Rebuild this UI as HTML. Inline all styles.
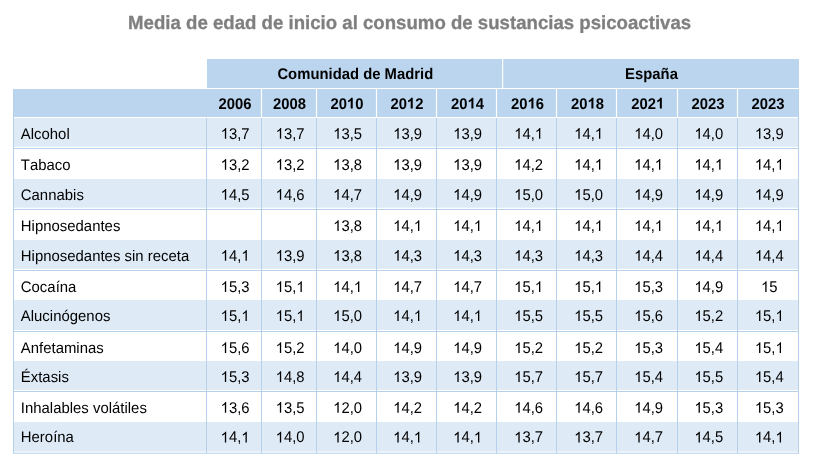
<!DOCTYPE html>
<html><head><meta charset="utf-8"><title>Media de edad de inicio</title>
<style>
html,body{margin:0;padding:0;background:#fff;}
body{width:823px;height:471px;overflow:hidden;font-family:"Liberation Sans",sans-serif;}
svg{display:block;will-change:transform;}
text{font-family:"Liberation Sans",sans-serif;font-kerning:none;}
.t{font-size:18.64px;font-weight:bold;fill:#7f7f7f;stroke:#7f7f7f;stroke-width:0.3px;}
.h{font-size:15px;font-weight:bold;fill:#000;}
.b,.l{font-size:15px;fill:#000;}
</style></head><body>
<svg width="823" height="471" viewBox="0 0 823 471">
<rect x="207" y="59" width="592.0" height="29" fill="#BAD5ED"/>
<rect x="502" y="59" width="1.2" height="29" fill="#fff"/>
<rect x="13.0" y="89" width="786.0" height="28" fill="#BAD5ED"/>
<rect x="260.9" y="89" width="1.2" height="28" fill="#fff"/>
<rect x="315.9" y="89" width="1.2" height="28" fill="#fff"/>
<rect x="375.9" y="89" width="1.2" height="28" fill="#fff"/>
<rect x="435.9" y="89" width="1.2" height="28" fill="#fff"/>
<rect x="495.9" y="89" width="1.2" height="28" fill="#fff"/>
<rect x="555.9" y="89" width="1.2" height="28" fill="#fff"/>
<rect x="615.9" y="89" width="1.2" height="28" fill="#fff"/>
<rect x="676.9" y="89" width="1.2" height="28" fill="#fff"/>
<rect x="736.9" y="89" width="1.2" height="28" fill="#fff"/>
<rect x="13.0" y="118" width="786.0" height="28.80000000000001" fill="#DEEAF6"/>
<rect x="13.0" y="148.0" width="786.0" height="1" fill="#B5D1EB"/>
<rect x="13.0" y="179" width="786.0" height="28.69999999999999" fill="#DEEAF6"/>
<rect x="13.0" y="209.0" width="786.0" height="1" fill="#B5D1EB"/>
<rect x="13.0" y="240" width="786.0" height="28.899999999999977" fill="#DEEAF6"/>
<rect x="13.0" y="270.0" width="786.0" height="1" fill="#B5D1EB"/>
<rect x="13.0" y="300" width="786.0" height="30.0" fill="#DEEAF6"/>
<rect x="13.0" y="331.0" width="786.0" height="1" fill="#B5D1EB"/>
<rect x="13.0" y="361" width="786.0" height="29.0" fill="#DEEAF6"/>
<rect x="13.0" y="391.0" width="786.0" height="1" fill="#B5D1EB"/>
<rect x="13.0" y="422" width="786.0" height="29.69999999999999" fill="#DEEAF6"/>
<rect x="13.0" y="452.7" width="786.0" height="1" fill="#B5D1EB"/>
<rect x="13.0" y="89" width="1" height="364.5" fill="#B5D1EB"/>
<rect x="206.0" y="118" width="1" height="335.5" fill="#B5D1EB"/>
<rect x="261.0" y="118" width="1" height="335.5" fill="#B5D1EB"/>
<rect x="316.0" y="118" width="1" height="335.5" fill="#B5D1EB"/>
<rect x="376.0" y="118" width="1" height="335.5" fill="#B5D1EB"/>
<rect x="436.0" y="118" width="1" height="335.5" fill="#B5D1EB"/>
<rect x="496.0" y="118" width="1" height="335.5" fill="#B5D1EB"/>
<rect x="556.0" y="118" width="1" height="335.5" fill="#B5D1EB"/>
<rect x="616.0" y="118" width="1" height="335.5" fill="#B5D1EB"/>
<rect x="677.0" y="118" width="1" height="335.5" fill="#B5D1EB"/>
<rect x="737.0" y="118" width="1" height="335.5" fill="#B5D1EB"/>
<rect x="798.0" y="89" width="1" height="364.5" fill="#B5D1EB"/>
<text transform="translate(409.60,29.20) skewX(0.05) scale(1,1.02)" class="t" text-anchor="middle">Media de edad de inicio al consumo de sustancias psicoactivas</text>
<text transform="translate(355.30,78.80) skewX(0.05) scale(0.99,1.04)" class="h" text-anchor="middle">Comunidad de Madrid</text>
<text transform="translate(651.50,78.80) skewX(0.05) scale(0.99,1.04)" class="h" text-anchor="middle">España</text>
<g transform="translate(235.00,108.50) skewX(0.05) scale(0.99,1.04)"><text class="h" x="-16.685 -8.342 0.000 8.342" y="0">2006</text></g>
<g transform="translate(289.40,108.50) skewX(0.05) scale(0.99,1.04)"><text class="h" x="-16.685 -8.342 0.000 8.342" y="0">2008</text></g>
<g transform="translate(346.90,108.50) skewX(0.05) scale(0.99,1.04)"><text class="h" x="-16.685 -8.342 8.342" y="0">200</text><path transform="translate(0.000,0) scale(0.007324,-0.007043)" d="M806 0H525V1059Q371 915 162 846V1101Q272 1137 401 1237.5T578 1472H806V0Z"/></g>
<g transform="translate(406.90,108.50) skewX(0.05) scale(0.99,1.04)"><text class="h" x="-16.685 -8.342 8.342" y="0">202</text><path transform="translate(0.000,0) scale(0.007324,-0.007043)" d="M806 0H525V1059Q371 915 162 846V1101Q272 1137 401 1237.5T578 1472H806V0Z"/></g>
<g transform="translate(467.60,108.50) skewX(0.05) scale(0.99,1.04)"><text class="h" x="-16.685 -8.342 8.342" y="0">204</text><path transform="translate(0.000,0) scale(0.007324,-0.007043)" d="M806 0H525V1059Q371 915 162 846V1101Q272 1137 401 1237.5T578 1472H806V0Z"/></g>
<g transform="translate(527.60,108.50) skewX(0.05) scale(0.99,1.04)"><text class="h" x="-16.685 -8.342 8.342" y="0">206</text><path transform="translate(0.000,0) scale(0.007324,-0.007043)" d="M806 0H525V1059Q371 915 162 846V1101Q272 1137 401 1237.5T578 1472H806V0Z"/></g>
<g transform="translate(587.60,108.50) skewX(0.05) scale(0.99,1.04)"><text class="h" x="-16.685 -8.342 8.342" y="0">208</text><path transform="translate(0.000,0) scale(0.007324,-0.007043)" d="M806 0H525V1059Q371 915 162 846V1101Q272 1137 401 1237.5T578 1472H806V0Z"/></g>
<g transform="translate(647.75,108.50) skewX(0.05) scale(0.99,1.04)"><text class="h" x="-16.685 -8.342 0.000" y="0">202</text><path transform="translate(8.342,0) scale(0.007324,-0.007043)" d="M806 0H525V1059Q371 915 162 846V1101Q272 1137 401 1237.5T578 1472H806V0Z"/></g>
<g transform="translate(708.00,108.50) skewX(0.05) scale(0.99,1.04)"><text class="h" x="-16.685 -8.342 0.000 8.342" y="0">2023</text></g>
<g transform="translate(768.10,108.50) skewX(0.05) scale(0.99,1.04)"><text class="h" x="-16.685 -8.342 0.000 8.342" y="0">2023</text></g>
<text transform="translate(20.80,138.80) skewX(0.05) scale(0.995,1.02)" class="l" text-anchor="start">Alcohol</text>
<g transform="translate(235.10,138.80) skewX(0.05) scale(0.99,1.04)"><text class="b" x="-6.255 2.087 6.255" y="0">3,7</text><path transform="translate(-14.597,0) scale(0.007324,-0.007043)" d="M763 0H583V1147Q518 1085 412.5 1023T223 930V1104Q373 1174.5 485 1275T644 1470H763V0Z"/></g>
<g transform="translate(290.10,138.80) skewX(0.05) scale(0.99,1.04)"><text class="b" x="-6.255 2.087 6.255" y="0">3,7</text><path transform="translate(-14.597,0) scale(0.007324,-0.007043)" d="M763 0H583V1147Q518 1085 412.5 1023T223 930V1104Q373 1174.5 485 1275T644 1470H763V0Z"/></g>
<g transform="translate(347.60,138.80) skewX(0.05) scale(0.99,1.04)"><text class="b" x="-6.255 2.087 6.255" y="0">3,5</text><path transform="translate(-14.597,0) scale(0.007324,-0.007043)" d="M763 0H583V1147Q518 1085 412.5 1023T223 930V1104Q373 1174.5 485 1275T644 1470H763V0Z"/></g>
<g transform="translate(407.60,138.80) skewX(0.05) scale(0.99,1.04)"><text class="b" x="-6.255 2.087 6.255" y="0">3,9</text><path transform="translate(-14.597,0) scale(0.007324,-0.007043)" d="M763 0H583V1147Q518 1085 412.5 1023T223 930V1104Q373 1174.5 485 1275T644 1470H763V0Z"/></g>
<g transform="translate(467.60,138.80) skewX(0.05) scale(0.99,1.04)"><text class="b" x="-6.255 2.087 6.255" y="0">3,9</text><path transform="translate(-14.597,0) scale(0.007324,-0.007043)" d="M763 0H583V1147Q518 1085 412.5 1023T223 930V1104Q373 1174.5 485 1275T644 1470H763V0Z"/></g>
<g transform="translate(528.60,138.80) skewX(0.05) scale(0.99,1.04)"><text class="b" x="-6.255 2.087" y="0">4,</text><path transform="translate(-14.597,0) scale(0.007324,-0.007043)" d="M763 0H583V1147Q518 1085 412.5 1023T223 930V1104Q373 1174.5 485 1275T644 1470H763V0Z"/><path transform="translate(6.255,0) scale(0.007324,-0.007043)" d="M763 0H583V1147Q518 1085 412.5 1023T223 930V1104Q373 1174.5 485 1275T644 1470H763V0Z"/></g>
<g transform="translate(588.60,138.80) skewX(0.05) scale(0.99,1.04)"><text class="b" x="-6.255 2.087" y="0">4,</text><path transform="translate(-14.597,0) scale(0.007324,-0.007043)" d="M763 0H583V1147Q518 1085 412.5 1023T223 930V1104Q373 1174.5 485 1275T644 1470H763V0Z"/><path transform="translate(6.255,0) scale(0.007324,-0.007043)" d="M763 0H583V1147Q518 1085 412.5 1023T223 930V1104Q373 1174.5 485 1275T644 1470H763V0Z"/></g>
<g transform="translate(648.60,138.80) skewX(0.05) scale(0.99,1.04)"><text class="b" x="-6.255 2.087 6.255" y="0">4,0</text><path transform="translate(-14.597,0) scale(0.007324,-0.007043)" d="M763 0H583V1147Q518 1085 412.5 1023T223 930V1104Q373 1174.5 485 1275T644 1470H763V0Z"/></g>
<g transform="translate(708.80,138.80) skewX(0.05) scale(0.99,1.04)"><text class="b" x="-6.255 2.087 6.255" y="0">4,0</text><path transform="translate(-14.597,0) scale(0.007324,-0.007043)" d="M763 0H583V1147Q518 1085 412.5 1023T223 930V1104Q373 1174.5 485 1275T644 1470H763V0Z"/></g>
<g transform="translate(769.30,138.80) skewX(0.05) scale(0.99,1.04)"><text class="b" x="-6.255 2.087 6.255" y="0">3,9</text><path transform="translate(-14.597,0) scale(0.007324,-0.007043)" d="M763 0H583V1147Q518 1085 412.5 1023T223 930V1104Q373 1174.5 485 1275T644 1470H763V0Z"/></g>
<text transform="translate(20.80,169.70) skewX(0.05) scale(0.995,1.02)" class="l" text-anchor="start">Tabaco</text>
<g transform="translate(235.10,169.70) skewX(0.05) scale(0.99,1.04)"><text class="b" x="-6.255 2.087 6.255" y="0">3,2</text><path transform="translate(-14.597,0) scale(0.007324,-0.007043)" d="M763 0H583V1147Q518 1085 412.5 1023T223 930V1104Q373 1174.5 485 1275T644 1470H763V0Z"/></g>
<g transform="translate(290.10,169.70) skewX(0.05) scale(0.99,1.04)"><text class="b" x="-6.255 2.087 6.255" y="0">3,2</text><path transform="translate(-14.597,0) scale(0.007324,-0.007043)" d="M763 0H583V1147Q518 1085 412.5 1023T223 930V1104Q373 1174.5 485 1275T644 1470H763V0Z"/></g>
<g transform="translate(347.60,169.70) skewX(0.05) scale(0.99,1.04)"><text class="b" x="-6.255 2.087 6.255" y="0">3,8</text><path transform="translate(-14.597,0) scale(0.007324,-0.007043)" d="M763 0H583V1147Q518 1085 412.5 1023T223 930V1104Q373 1174.5 485 1275T644 1470H763V0Z"/></g>
<g transform="translate(407.60,169.70) skewX(0.05) scale(0.99,1.04)"><text class="b" x="-6.255 2.087 6.255" y="0">3,9</text><path transform="translate(-14.597,0) scale(0.007324,-0.007043)" d="M763 0H583V1147Q518 1085 412.5 1023T223 930V1104Q373 1174.5 485 1275T644 1470H763V0Z"/></g>
<g transform="translate(467.60,169.70) skewX(0.05) scale(0.99,1.04)"><text class="b" x="-6.255 2.087 6.255" y="0">3,9</text><path transform="translate(-14.597,0) scale(0.007324,-0.007043)" d="M763 0H583V1147Q518 1085 412.5 1023T223 930V1104Q373 1174.5 485 1275T644 1470H763V0Z"/></g>
<g transform="translate(528.60,169.70) skewX(0.05) scale(0.99,1.04)"><text class="b" x="-6.255 2.087 6.255" y="0">4,2</text><path transform="translate(-14.597,0) scale(0.007324,-0.007043)" d="M763 0H583V1147Q518 1085 412.5 1023T223 930V1104Q373 1174.5 485 1275T644 1470H763V0Z"/></g>
<g transform="translate(588.60,169.70) skewX(0.05) scale(0.99,1.04)"><text class="b" x="-6.255 2.087" y="0">4,</text><path transform="translate(-14.597,0) scale(0.007324,-0.007043)" d="M763 0H583V1147Q518 1085 412.5 1023T223 930V1104Q373 1174.5 485 1275T644 1470H763V0Z"/><path transform="translate(6.255,0) scale(0.007324,-0.007043)" d="M763 0H583V1147Q518 1085 412.5 1023T223 930V1104Q373 1174.5 485 1275T644 1470H763V0Z"/></g>
<g transform="translate(648.60,169.70) skewX(0.05) scale(0.99,1.04)"><text class="b" x="-6.255 2.087" y="0">4,</text><path transform="translate(-14.597,0) scale(0.007324,-0.007043)" d="M763 0H583V1147Q518 1085 412.5 1023T223 930V1104Q373 1174.5 485 1275T644 1470H763V0Z"/><path transform="translate(6.255,0) scale(0.007324,-0.007043)" d="M763 0H583V1147Q518 1085 412.5 1023T223 930V1104Q373 1174.5 485 1275T644 1470H763V0Z"/></g>
<g transform="translate(708.80,169.70) skewX(0.05) scale(0.99,1.04)"><text class="b" x="-6.255 2.087" y="0">4,</text><path transform="translate(-14.597,0) scale(0.007324,-0.007043)" d="M763 0H583V1147Q518 1085 412.5 1023T223 930V1104Q373 1174.5 485 1275T644 1470H763V0Z"/><path transform="translate(6.255,0) scale(0.007324,-0.007043)" d="M763 0H583V1147Q518 1085 412.5 1023T223 930V1104Q373 1174.5 485 1275T644 1470H763V0Z"/></g>
<g transform="translate(769.30,169.70) skewX(0.05) scale(0.99,1.04)"><text class="b" x="-6.255 2.087" y="0">4,</text><path transform="translate(-14.597,0) scale(0.007324,-0.007043)" d="M763 0H583V1147Q518 1085 412.5 1023T223 930V1104Q373 1174.5 485 1275T644 1470H763V0Z"/><path transform="translate(6.255,0) scale(0.007324,-0.007043)" d="M763 0H583V1147Q518 1085 412.5 1023T223 930V1104Q373 1174.5 485 1275T644 1470H763V0Z"/></g>
<text transform="translate(20.80,199.70) skewX(0.05) scale(0.995,1.02)" class="l" text-anchor="start">Cannabis</text>
<g transform="translate(235.10,199.70) skewX(0.05) scale(0.99,1.04)"><text class="b" x="-6.255 2.087 6.255" y="0">4,5</text><path transform="translate(-14.597,0) scale(0.007324,-0.007043)" d="M763 0H583V1147Q518 1085 412.5 1023T223 930V1104Q373 1174.5 485 1275T644 1470H763V0Z"/></g>
<g transform="translate(290.10,199.70) skewX(0.05) scale(0.99,1.04)"><text class="b" x="-6.255 2.087 6.255" y="0">4,6</text><path transform="translate(-14.597,0) scale(0.007324,-0.007043)" d="M763 0H583V1147Q518 1085 412.5 1023T223 930V1104Q373 1174.5 485 1275T644 1470H763V0Z"/></g>
<g transform="translate(347.60,199.70) skewX(0.05) scale(0.99,1.04)"><text class="b" x="-6.255 2.087 6.255" y="0">4,7</text><path transform="translate(-14.597,0) scale(0.007324,-0.007043)" d="M763 0H583V1147Q518 1085 412.5 1023T223 930V1104Q373 1174.5 485 1275T644 1470H763V0Z"/></g>
<g transform="translate(407.60,199.70) skewX(0.05) scale(0.99,1.04)"><text class="b" x="-6.255 2.087 6.255" y="0">4,9</text><path transform="translate(-14.597,0) scale(0.007324,-0.007043)" d="M763 0H583V1147Q518 1085 412.5 1023T223 930V1104Q373 1174.5 485 1275T644 1470H763V0Z"/></g>
<g transform="translate(467.60,199.70) skewX(0.05) scale(0.99,1.04)"><text class="b" x="-6.255 2.087 6.255" y="0">4,9</text><path transform="translate(-14.597,0) scale(0.007324,-0.007043)" d="M763 0H583V1147Q518 1085 412.5 1023T223 930V1104Q373 1174.5 485 1275T644 1470H763V0Z"/></g>
<g transform="translate(528.60,199.70) skewX(0.05) scale(0.99,1.04)"><text class="b" x="-6.255 2.087 6.255" y="0">5,0</text><path transform="translate(-14.597,0) scale(0.007324,-0.007043)" d="M763 0H583V1147Q518 1085 412.5 1023T223 930V1104Q373 1174.5 485 1275T644 1470H763V0Z"/></g>
<g transform="translate(588.60,199.70) skewX(0.05) scale(0.99,1.04)"><text class="b" x="-6.255 2.087 6.255" y="0">5,0</text><path transform="translate(-14.597,0) scale(0.007324,-0.007043)" d="M763 0H583V1147Q518 1085 412.5 1023T223 930V1104Q373 1174.5 485 1275T644 1470H763V0Z"/></g>
<g transform="translate(648.60,199.70) skewX(0.05) scale(0.99,1.04)"><text class="b" x="-6.255 2.087 6.255" y="0">4,9</text><path transform="translate(-14.597,0) scale(0.007324,-0.007043)" d="M763 0H583V1147Q518 1085 412.5 1023T223 930V1104Q373 1174.5 485 1275T644 1470H763V0Z"/></g>
<g transform="translate(708.80,199.70) skewX(0.05) scale(0.99,1.04)"><text class="b" x="-6.255 2.087 6.255" y="0">4,9</text><path transform="translate(-14.597,0) scale(0.007324,-0.007043)" d="M763 0H583V1147Q518 1085 412.5 1023T223 930V1104Q373 1174.5 485 1275T644 1470H763V0Z"/></g>
<g transform="translate(769.30,199.70) skewX(0.05) scale(0.99,1.04)"><text class="b" x="-6.255 2.087 6.255" y="0">4,9</text><path transform="translate(-14.597,0) scale(0.007324,-0.007043)" d="M763 0H583V1147Q518 1085 412.5 1023T223 930V1104Q373 1174.5 485 1275T644 1470H763V0Z"/></g>
<text transform="translate(20.80,231.00) skewX(0.05) scale(0.995,1.02)" class="l" text-anchor="start">Hipnosedantes</text>
<g transform="translate(347.60,231.00) skewX(0.05) scale(0.99,1.04)"><text class="b" x="-6.255 2.087 6.255" y="0">3,8</text><path transform="translate(-14.597,0) scale(0.007324,-0.007043)" d="M763 0H583V1147Q518 1085 412.5 1023T223 930V1104Q373 1174.5 485 1275T644 1470H763V0Z"/></g>
<g transform="translate(407.60,231.00) skewX(0.05) scale(0.99,1.04)"><text class="b" x="-6.255 2.087" y="0">4,</text><path transform="translate(-14.597,0) scale(0.007324,-0.007043)" d="M763 0H583V1147Q518 1085 412.5 1023T223 930V1104Q373 1174.5 485 1275T644 1470H763V0Z"/><path transform="translate(6.255,0) scale(0.007324,-0.007043)" d="M763 0H583V1147Q518 1085 412.5 1023T223 930V1104Q373 1174.5 485 1275T644 1470H763V0Z"/></g>
<g transform="translate(467.60,231.00) skewX(0.05) scale(0.99,1.04)"><text class="b" x="-6.255 2.087" y="0">4,</text><path transform="translate(-14.597,0) scale(0.007324,-0.007043)" d="M763 0H583V1147Q518 1085 412.5 1023T223 930V1104Q373 1174.5 485 1275T644 1470H763V0Z"/><path transform="translate(6.255,0) scale(0.007324,-0.007043)" d="M763 0H583V1147Q518 1085 412.5 1023T223 930V1104Q373 1174.5 485 1275T644 1470H763V0Z"/></g>
<g transform="translate(528.60,231.00) skewX(0.05) scale(0.99,1.04)"><text class="b" x="-6.255 2.087" y="0">4,</text><path transform="translate(-14.597,0) scale(0.007324,-0.007043)" d="M763 0H583V1147Q518 1085 412.5 1023T223 930V1104Q373 1174.5 485 1275T644 1470H763V0Z"/><path transform="translate(6.255,0) scale(0.007324,-0.007043)" d="M763 0H583V1147Q518 1085 412.5 1023T223 930V1104Q373 1174.5 485 1275T644 1470H763V0Z"/></g>
<g transform="translate(588.60,231.00) skewX(0.05) scale(0.99,1.04)"><text class="b" x="-6.255 2.087" y="0">4,</text><path transform="translate(-14.597,0) scale(0.007324,-0.007043)" d="M763 0H583V1147Q518 1085 412.5 1023T223 930V1104Q373 1174.5 485 1275T644 1470H763V0Z"/><path transform="translate(6.255,0) scale(0.007324,-0.007043)" d="M763 0H583V1147Q518 1085 412.5 1023T223 930V1104Q373 1174.5 485 1275T644 1470H763V0Z"/></g>
<g transform="translate(648.60,231.00) skewX(0.05) scale(0.99,1.04)"><text class="b" x="-6.255 2.087" y="0">4,</text><path transform="translate(-14.597,0) scale(0.007324,-0.007043)" d="M763 0H583V1147Q518 1085 412.5 1023T223 930V1104Q373 1174.5 485 1275T644 1470H763V0Z"/><path transform="translate(6.255,0) scale(0.007324,-0.007043)" d="M763 0H583V1147Q518 1085 412.5 1023T223 930V1104Q373 1174.5 485 1275T644 1470H763V0Z"/></g>
<g transform="translate(708.80,231.00) skewX(0.05) scale(0.99,1.04)"><text class="b" x="-6.255 2.087" y="0">4,</text><path transform="translate(-14.597,0) scale(0.007324,-0.007043)" d="M763 0H583V1147Q518 1085 412.5 1023T223 930V1104Q373 1174.5 485 1275T644 1470H763V0Z"/><path transform="translate(6.255,0) scale(0.007324,-0.007043)" d="M763 0H583V1147Q518 1085 412.5 1023T223 930V1104Q373 1174.5 485 1275T644 1470H763V0Z"/></g>
<g transform="translate(769.30,231.00) skewX(0.05) scale(0.99,1.04)"><text class="b" x="-6.255 2.087" y="0">4,</text><path transform="translate(-14.597,0) scale(0.007324,-0.007043)" d="M763 0H583V1147Q518 1085 412.5 1023T223 930V1104Q373 1174.5 485 1275T644 1470H763V0Z"/><path transform="translate(6.255,0) scale(0.007324,-0.007043)" d="M763 0H583V1147Q518 1085 412.5 1023T223 930V1104Q373 1174.5 485 1275T644 1470H763V0Z"/></g>
<text transform="translate(20.80,260.80) skewX(0.05) scale(0.995,1.02)" class="l" text-anchor="start">Hipnosedantes sin receta</text>
<g transform="translate(235.10,260.80) skewX(0.05) scale(0.99,1.04)"><text class="b" x="-6.255 2.087" y="0">4,</text><path transform="translate(-14.597,0) scale(0.007324,-0.007043)" d="M763 0H583V1147Q518 1085 412.5 1023T223 930V1104Q373 1174.5 485 1275T644 1470H763V0Z"/><path transform="translate(6.255,0) scale(0.007324,-0.007043)" d="M763 0H583V1147Q518 1085 412.5 1023T223 930V1104Q373 1174.5 485 1275T644 1470H763V0Z"/></g>
<g transform="translate(290.10,260.80) skewX(0.05) scale(0.99,1.04)"><text class="b" x="-6.255 2.087 6.255" y="0">3,9</text><path transform="translate(-14.597,0) scale(0.007324,-0.007043)" d="M763 0H583V1147Q518 1085 412.5 1023T223 930V1104Q373 1174.5 485 1275T644 1470H763V0Z"/></g>
<g transform="translate(347.60,260.80) skewX(0.05) scale(0.99,1.04)"><text class="b" x="-6.255 2.087 6.255" y="0">3,8</text><path transform="translate(-14.597,0) scale(0.007324,-0.007043)" d="M763 0H583V1147Q518 1085 412.5 1023T223 930V1104Q373 1174.5 485 1275T644 1470H763V0Z"/></g>
<g transform="translate(407.60,260.80) skewX(0.05) scale(0.99,1.04)"><text class="b" x="-6.255 2.087 6.255" y="0">4,3</text><path transform="translate(-14.597,0) scale(0.007324,-0.007043)" d="M763 0H583V1147Q518 1085 412.5 1023T223 930V1104Q373 1174.5 485 1275T644 1470H763V0Z"/></g>
<g transform="translate(467.60,260.80) skewX(0.05) scale(0.99,1.04)"><text class="b" x="-6.255 2.087 6.255" y="0">4,3</text><path transform="translate(-14.597,0) scale(0.007324,-0.007043)" d="M763 0H583V1147Q518 1085 412.5 1023T223 930V1104Q373 1174.5 485 1275T644 1470H763V0Z"/></g>
<g transform="translate(528.60,260.80) skewX(0.05) scale(0.99,1.04)"><text class="b" x="-6.255 2.087 6.255" y="0">4,3</text><path transform="translate(-14.597,0) scale(0.007324,-0.007043)" d="M763 0H583V1147Q518 1085 412.5 1023T223 930V1104Q373 1174.5 485 1275T644 1470H763V0Z"/></g>
<g transform="translate(588.60,260.80) skewX(0.05) scale(0.99,1.04)"><text class="b" x="-6.255 2.087 6.255" y="0">4,3</text><path transform="translate(-14.597,0) scale(0.007324,-0.007043)" d="M763 0H583V1147Q518 1085 412.5 1023T223 930V1104Q373 1174.5 485 1275T644 1470H763V0Z"/></g>
<g transform="translate(648.60,260.80) skewX(0.05) scale(0.99,1.04)"><text class="b" x="-6.255 2.087 6.255" y="0">4,4</text><path transform="translate(-14.597,0) scale(0.007324,-0.007043)" d="M763 0H583V1147Q518 1085 412.5 1023T223 930V1104Q373 1174.5 485 1275T644 1470H763V0Z"/></g>
<g transform="translate(708.80,260.80) skewX(0.05) scale(0.99,1.04)"><text class="b" x="-6.255 2.087 6.255" y="0">4,4</text><path transform="translate(-14.597,0) scale(0.007324,-0.007043)" d="M763 0H583V1147Q518 1085 412.5 1023T223 930V1104Q373 1174.5 485 1275T644 1470H763V0Z"/></g>
<g transform="translate(769.30,260.80) skewX(0.05) scale(0.99,1.04)"><text class="b" x="-6.255 2.087 6.255" y="0">4,4</text><path transform="translate(-14.597,0) scale(0.007324,-0.007043)" d="M763 0H583V1147Q518 1085 412.5 1023T223 930V1104Q373 1174.5 485 1275T644 1470H763V0Z"/></g>
<text transform="translate(20.80,292.00) skewX(0.05) scale(0.995,1.02)" class="l" text-anchor="start">Cocaína</text>
<g transform="translate(235.10,292.00) skewX(0.05) scale(0.99,1.04)"><text class="b" x="-6.255 2.087 6.255" y="0">5,3</text><path transform="translate(-14.597,0) scale(0.007324,-0.007043)" d="M763 0H583V1147Q518 1085 412.5 1023T223 930V1104Q373 1174.5 485 1275T644 1470H763V0Z"/></g>
<g transform="translate(290.10,292.00) skewX(0.05) scale(0.99,1.04)"><text class="b" x="-6.255 2.087" y="0">5,</text><path transform="translate(-14.597,0) scale(0.007324,-0.007043)" d="M763 0H583V1147Q518 1085 412.5 1023T223 930V1104Q373 1174.5 485 1275T644 1470H763V0Z"/><path transform="translate(6.255,0) scale(0.007324,-0.007043)" d="M763 0H583V1147Q518 1085 412.5 1023T223 930V1104Q373 1174.5 485 1275T644 1470H763V0Z"/></g>
<g transform="translate(347.60,292.00) skewX(0.05) scale(0.99,1.04)"><text class="b" x="-6.255 2.087" y="0">4,</text><path transform="translate(-14.597,0) scale(0.007324,-0.007043)" d="M763 0H583V1147Q518 1085 412.5 1023T223 930V1104Q373 1174.5 485 1275T644 1470H763V0Z"/><path transform="translate(6.255,0) scale(0.007324,-0.007043)" d="M763 0H583V1147Q518 1085 412.5 1023T223 930V1104Q373 1174.5 485 1275T644 1470H763V0Z"/></g>
<g transform="translate(407.60,292.00) skewX(0.05) scale(0.99,1.04)"><text class="b" x="-6.255 2.087 6.255" y="0">4,7</text><path transform="translate(-14.597,0) scale(0.007324,-0.007043)" d="M763 0H583V1147Q518 1085 412.5 1023T223 930V1104Q373 1174.5 485 1275T644 1470H763V0Z"/></g>
<g transform="translate(467.60,292.00) skewX(0.05) scale(0.99,1.04)"><text class="b" x="-6.255 2.087 6.255" y="0">4,7</text><path transform="translate(-14.597,0) scale(0.007324,-0.007043)" d="M763 0H583V1147Q518 1085 412.5 1023T223 930V1104Q373 1174.5 485 1275T644 1470H763V0Z"/></g>
<g transform="translate(528.60,292.00) skewX(0.05) scale(0.99,1.04)"><text class="b" x="-6.255 2.087" y="0">5,</text><path transform="translate(-14.597,0) scale(0.007324,-0.007043)" d="M763 0H583V1147Q518 1085 412.5 1023T223 930V1104Q373 1174.5 485 1275T644 1470H763V0Z"/><path transform="translate(6.255,0) scale(0.007324,-0.007043)" d="M763 0H583V1147Q518 1085 412.5 1023T223 930V1104Q373 1174.5 485 1275T644 1470H763V0Z"/></g>
<g transform="translate(588.60,292.00) skewX(0.05) scale(0.99,1.04)"><text class="b" x="-6.255 2.087" y="0">5,</text><path transform="translate(-14.597,0) scale(0.007324,-0.007043)" d="M763 0H583V1147Q518 1085 412.5 1023T223 930V1104Q373 1174.5 485 1275T644 1470H763V0Z"/><path transform="translate(6.255,0) scale(0.007324,-0.007043)" d="M763 0H583V1147Q518 1085 412.5 1023T223 930V1104Q373 1174.5 485 1275T644 1470H763V0Z"/></g>
<g transform="translate(648.60,292.00) skewX(0.05) scale(0.99,1.04)"><text class="b" x="-6.255 2.087 6.255" y="0">5,3</text><path transform="translate(-14.597,0) scale(0.007324,-0.007043)" d="M763 0H583V1147Q518 1085 412.5 1023T223 930V1104Q373 1174.5 485 1275T644 1470H763V0Z"/></g>
<g transform="translate(708.80,292.00) skewX(0.05) scale(0.99,1.04)"><text class="b" x="-6.255 2.087 6.255" y="0">4,9</text><path transform="translate(-14.597,0) scale(0.007324,-0.007043)" d="M763 0H583V1147Q518 1085 412.5 1023T223 930V1104Q373 1174.5 485 1275T644 1470H763V0Z"/></g>
<g transform="translate(769.30,292.00) skewX(0.05) scale(0.99,1.04)"><text class="b" x="0.000" y="0">5</text><path transform="translate(-8.342,0) scale(0.007324,-0.007043)" d="M763 0H583V1147Q518 1085 412.5 1023T223 930V1104Q373 1174.5 485 1275T644 1470H763V0Z"/></g>
<text transform="translate(20.80,321.00) skewX(0.05) scale(0.995,1.02)" class="l" text-anchor="start">Alucinógenos</text>
<g transform="translate(235.10,321.00) skewX(0.05) scale(0.99,1.04)"><text class="b" x="-6.255 2.087" y="0">5,</text><path transform="translate(-14.597,0) scale(0.007324,-0.007043)" d="M763 0H583V1147Q518 1085 412.5 1023T223 930V1104Q373 1174.5 485 1275T644 1470H763V0Z"/><path transform="translate(6.255,0) scale(0.007324,-0.007043)" d="M763 0H583V1147Q518 1085 412.5 1023T223 930V1104Q373 1174.5 485 1275T644 1470H763V0Z"/></g>
<g transform="translate(290.10,321.00) skewX(0.05) scale(0.99,1.04)"><text class="b" x="-6.255 2.087" y="0">5,</text><path transform="translate(-14.597,0) scale(0.007324,-0.007043)" d="M763 0H583V1147Q518 1085 412.5 1023T223 930V1104Q373 1174.5 485 1275T644 1470H763V0Z"/><path transform="translate(6.255,0) scale(0.007324,-0.007043)" d="M763 0H583V1147Q518 1085 412.5 1023T223 930V1104Q373 1174.5 485 1275T644 1470H763V0Z"/></g>
<g transform="translate(347.60,321.00) skewX(0.05) scale(0.99,1.04)"><text class="b" x="-6.255 2.087 6.255" y="0">5,0</text><path transform="translate(-14.597,0) scale(0.007324,-0.007043)" d="M763 0H583V1147Q518 1085 412.5 1023T223 930V1104Q373 1174.5 485 1275T644 1470H763V0Z"/></g>
<g transform="translate(407.60,321.00) skewX(0.05) scale(0.99,1.04)"><text class="b" x="-6.255 2.087" y="0">4,</text><path transform="translate(-14.597,0) scale(0.007324,-0.007043)" d="M763 0H583V1147Q518 1085 412.5 1023T223 930V1104Q373 1174.5 485 1275T644 1470H763V0Z"/><path transform="translate(6.255,0) scale(0.007324,-0.007043)" d="M763 0H583V1147Q518 1085 412.5 1023T223 930V1104Q373 1174.5 485 1275T644 1470H763V0Z"/></g>
<g transform="translate(467.60,321.00) skewX(0.05) scale(0.99,1.04)"><text class="b" x="-6.255 2.087" y="0">4,</text><path transform="translate(-14.597,0) scale(0.007324,-0.007043)" d="M763 0H583V1147Q518 1085 412.5 1023T223 930V1104Q373 1174.5 485 1275T644 1470H763V0Z"/><path transform="translate(6.255,0) scale(0.007324,-0.007043)" d="M763 0H583V1147Q518 1085 412.5 1023T223 930V1104Q373 1174.5 485 1275T644 1470H763V0Z"/></g>
<g transform="translate(528.60,321.00) skewX(0.05) scale(0.99,1.04)"><text class="b" x="-6.255 2.087 6.255" y="0">5,5</text><path transform="translate(-14.597,0) scale(0.007324,-0.007043)" d="M763 0H583V1147Q518 1085 412.5 1023T223 930V1104Q373 1174.5 485 1275T644 1470H763V0Z"/></g>
<g transform="translate(588.60,321.00) skewX(0.05) scale(0.99,1.04)"><text class="b" x="-6.255 2.087 6.255" y="0">5,5</text><path transform="translate(-14.597,0) scale(0.007324,-0.007043)" d="M763 0H583V1147Q518 1085 412.5 1023T223 930V1104Q373 1174.5 485 1275T644 1470H763V0Z"/></g>
<g transform="translate(648.60,321.00) skewX(0.05) scale(0.99,1.04)"><text class="b" x="-6.255 2.087 6.255" y="0">5,6</text><path transform="translate(-14.597,0) scale(0.007324,-0.007043)" d="M763 0H583V1147Q518 1085 412.5 1023T223 930V1104Q373 1174.5 485 1275T644 1470H763V0Z"/></g>
<g transform="translate(708.80,321.00) skewX(0.05) scale(0.99,1.04)"><text class="b" x="-6.255 2.087 6.255" y="0">5,2</text><path transform="translate(-14.597,0) scale(0.007324,-0.007043)" d="M763 0H583V1147Q518 1085 412.5 1023T223 930V1104Q373 1174.5 485 1275T644 1470H763V0Z"/></g>
<g transform="translate(769.30,321.00) skewX(0.05) scale(0.99,1.04)"><text class="b" x="-6.255 2.087" y="0">5,</text><path transform="translate(-14.597,0) scale(0.007324,-0.007043)" d="M763 0H583V1147Q518 1085 412.5 1023T223 930V1104Q373 1174.5 485 1275T644 1470H763V0Z"/><path transform="translate(6.255,0) scale(0.007324,-0.007043)" d="M763 0H583V1147Q518 1085 412.5 1023T223 930V1104Q373 1174.5 485 1275T644 1470H763V0Z"/></g>
<text transform="translate(20.80,353.00) skewX(0.05) scale(0.995,1.02)" class="l" text-anchor="start">Anfetaminas</text>
<g transform="translate(235.10,353.00) skewX(0.05) scale(0.99,1.04)"><text class="b" x="-6.255 2.087 6.255" y="0">5,6</text><path transform="translate(-14.597,0) scale(0.007324,-0.007043)" d="M763 0H583V1147Q518 1085 412.5 1023T223 930V1104Q373 1174.5 485 1275T644 1470H763V0Z"/></g>
<g transform="translate(290.10,353.00) skewX(0.05) scale(0.99,1.04)"><text class="b" x="-6.255 2.087 6.255" y="0">5,2</text><path transform="translate(-14.597,0) scale(0.007324,-0.007043)" d="M763 0H583V1147Q518 1085 412.5 1023T223 930V1104Q373 1174.5 485 1275T644 1470H763V0Z"/></g>
<g transform="translate(347.60,353.00) skewX(0.05) scale(0.99,1.04)"><text class="b" x="-6.255 2.087 6.255" y="0">4,0</text><path transform="translate(-14.597,0) scale(0.007324,-0.007043)" d="M763 0H583V1147Q518 1085 412.5 1023T223 930V1104Q373 1174.5 485 1275T644 1470H763V0Z"/></g>
<g transform="translate(407.60,353.00) skewX(0.05) scale(0.99,1.04)"><text class="b" x="-6.255 2.087 6.255" y="0">4,9</text><path transform="translate(-14.597,0) scale(0.007324,-0.007043)" d="M763 0H583V1147Q518 1085 412.5 1023T223 930V1104Q373 1174.5 485 1275T644 1470H763V0Z"/></g>
<g transform="translate(467.60,353.00) skewX(0.05) scale(0.99,1.04)"><text class="b" x="-6.255 2.087 6.255" y="0">4,9</text><path transform="translate(-14.597,0) scale(0.007324,-0.007043)" d="M763 0H583V1147Q518 1085 412.5 1023T223 930V1104Q373 1174.5 485 1275T644 1470H763V0Z"/></g>
<g transform="translate(528.60,353.00) skewX(0.05) scale(0.99,1.04)"><text class="b" x="-6.255 2.087 6.255" y="0">5,2</text><path transform="translate(-14.597,0) scale(0.007324,-0.007043)" d="M763 0H583V1147Q518 1085 412.5 1023T223 930V1104Q373 1174.5 485 1275T644 1470H763V0Z"/></g>
<g transform="translate(588.60,353.00) skewX(0.05) scale(0.99,1.04)"><text class="b" x="-6.255 2.087 6.255" y="0">5,2</text><path transform="translate(-14.597,0) scale(0.007324,-0.007043)" d="M763 0H583V1147Q518 1085 412.5 1023T223 930V1104Q373 1174.5 485 1275T644 1470H763V0Z"/></g>
<g transform="translate(648.60,353.00) skewX(0.05) scale(0.99,1.04)"><text class="b" x="-6.255 2.087 6.255" y="0">5,3</text><path transform="translate(-14.597,0) scale(0.007324,-0.007043)" d="M763 0H583V1147Q518 1085 412.5 1023T223 930V1104Q373 1174.5 485 1275T644 1470H763V0Z"/></g>
<g transform="translate(708.80,353.00) skewX(0.05) scale(0.99,1.04)"><text class="b" x="-6.255 2.087 6.255" y="0">5,4</text><path transform="translate(-14.597,0) scale(0.007324,-0.007043)" d="M763 0H583V1147Q518 1085 412.5 1023T223 930V1104Q373 1174.5 485 1275T644 1470H763V0Z"/></g>
<g transform="translate(769.30,353.00) skewX(0.05) scale(0.99,1.04)"><text class="b" x="-6.255 2.087" y="0">5,</text><path transform="translate(-14.597,0) scale(0.007324,-0.007043)" d="M763 0H583V1147Q518 1085 412.5 1023T223 930V1104Q373 1174.5 485 1275T644 1470H763V0Z"/><path transform="translate(6.255,0) scale(0.007324,-0.007043)" d="M763 0H583V1147Q518 1085 412.5 1023T223 930V1104Q373 1174.5 485 1275T644 1470H763V0Z"/></g>
<text transform="translate(20.80,382.00) skewX(0.05) scale(0.995,1.02)" class="l" text-anchor="start">Éxtasis</text>
<g transform="translate(235.10,382.00) skewX(0.05) scale(0.99,1.04)"><text class="b" x="-6.255 2.087 6.255" y="0">5,3</text><path transform="translate(-14.597,0) scale(0.007324,-0.007043)" d="M763 0H583V1147Q518 1085 412.5 1023T223 930V1104Q373 1174.5 485 1275T644 1470H763V0Z"/></g>
<g transform="translate(290.10,382.00) skewX(0.05) scale(0.99,1.04)"><text class="b" x="-6.255 2.087 6.255" y="0">4,8</text><path transform="translate(-14.597,0) scale(0.007324,-0.007043)" d="M763 0H583V1147Q518 1085 412.5 1023T223 930V1104Q373 1174.5 485 1275T644 1470H763V0Z"/></g>
<g transform="translate(347.60,382.00) skewX(0.05) scale(0.99,1.04)"><text class="b" x="-6.255 2.087 6.255" y="0">4,4</text><path transform="translate(-14.597,0) scale(0.007324,-0.007043)" d="M763 0H583V1147Q518 1085 412.5 1023T223 930V1104Q373 1174.5 485 1275T644 1470H763V0Z"/></g>
<g transform="translate(407.60,382.00) skewX(0.05) scale(0.99,1.04)"><text class="b" x="-6.255 2.087 6.255" y="0">3,9</text><path transform="translate(-14.597,0) scale(0.007324,-0.007043)" d="M763 0H583V1147Q518 1085 412.5 1023T223 930V1104Q373 1174.5 485 1275T644 1470H763V0Z"/></g>
<g transform="translate(467.60,382.00) skewX(0.05) scale(0.99,1.04)"><text class="b" x="-6.255 2.087 6.255" y="0">3,9</text><path transform="translate(-14.597,0) scale(0.007324,-0.007043)" d="M763 0H583V1147Q518 1085 412.5 1023T223 930V1104Q373 1174.5 485 1275T644 1470H763V0Z"/></g>
<g transform="translate(528.60,382.00) skewX(0.05) scale(0.99,1.04)"><text class="b" x="-6.255 2.087 6.255" y="0">5,7</text><path transform="translate(-14.597,0) scale(0.007324,-0.007043)" d="M763 0H583V1147Q518 1085 412.5 1023T223 930V1104Q373 1174.5 485 1275T644 1470H763V0Z"/></g>
<g transform="translate(588.60,382.00) skewX(0.05) scale(0.99,1.04)"><text class="b" x="-6.255 2.087 6.255" y="0">5,7</text><path transform="translate(-14.597,0) scale(0.007324,-0.007043)" d="M763 0H583V1147Q518 1085 412.5 1023T223 930V1104Q373 1174.5 485 1275T644 1470H763V0Z"/></g>
<g transform="translate(648.60,382.00) skewX(0.05) scale(0.99,1.04)"><text class="b" x="-6.255 2.087 6.255" y="0">5,4</text><path transform="translate(-14.597,0) scale(0.007324,-0.007043)" d="M763 0H583V1147Q518 1085 412.5 1023T223 930V1104Q373 1174.5 485 1275T644 1470H763V0Z"/></g>
<g transform="translate(708.80,382.00) skewX(0.05) scale(0.99,1.04)"><text class="b" x="-6.255 2.087 6.255" y="0">5,5</text><path transform="translate(-14.597,0) scale(0.007324,-0.007043)" d="M763 0H583V1147Q518 1085 412.5 1023T223 930V1104Q373 1174.5 485 1275T644 1470H763V0Z"/></g>
<g transform="translate(769.30,382.00) skewX(0.05) scale(0.99,1.04)"><text class="b" x="-6.255 2.087 6.255" y="0">5,4</text><path transform="translate(-14.597,0) scale(0.007324,-0.007043)" d="M763 0H583V1147Q518 1085 412.5 1023T223 930V1104Q373 1174.5 485 1275T644 1470H763V0Z"/></g>
<text transform="translate(20.80,412.80) skewX(0.05) scale(0.995,1.02)" class="l" text-anchor="start">Inhalables volátiles</text>
<g transform="translate(235.10,412.80) skewX(0.05) scale(0.99,1.04)"><text class="b" x="-6.255 2.087 6.255" y="0">3,6</text><path transform="translate(-14.597,0) scale(0.007324,-0.007043)" d="M763 0H583V1147Q518 1085 412.5 1023T223 930V1104Q373 1174.5 485 1275T644 1470H763V0Z"/></g>
<g transform="translate(290.10,412.80) skewX(0.05) scale(0.99,1.04)"><text class="b" x="-6.255 2.087 6.255" y="0">3,5</text><path transform="translate(-14.597,0) scale(0.007324,-0.007043)" d="M763 0H583V1147Q518 1085 412.5 1023T223 930V1104Q373 1174.5 485 1275T644 1470H763V0Z"/></g>
<g transform="translate(347.60,412.80) skewX(0.05) scale(0.99,1.04)"><text class="b" x="-6.255 2.087 6.255" y="0">2,0</text><path transform="translate(-14.597,0) scale(0.007324,-0.007043)" d="M763 0H583V1147Q518 1085 412.5 1023T223 930V1104Q373 1174.5 485 1275T644 1470H763V0Z"/></g>
<g transform="translate(407.60,412.80) skewX(0.05) scale(0.99,1.04)"><text class="b" x="-6.255 2.087 6.255" y="0">4,2</text><path transform="translate(-14.597,0) scale(0.007324,-0.007043)" d="M763 0H583V1147Q518 1085 412.5 1023T223 930V1104Q373 1174.5 485 1275T644 1470H763V0Z"/></g>
<g transform="translate(467.60,412.80) skewX(0.05) scale(0.99,1.04)"><text class="b" x="-6.255 2.087 6.255" y="0">4,2</text><path transform="translate(-14.597,0) scale(0.007324,-0.007043)" d="M763 0H583V1147Q518 1085 412.5 1023T223 930V1104Q373 1174.5 485 1275T644 1470H763V0Z"/></g>
<g transform="translate(528.60,412.80) skewX(0.05) scale(0.99,1.04)"><text class="b" x="-6.255 2.087 6.255" y="0">4,6</text><path transform="translate(-14.597,0) scale(0.007324,-0.007043)" d="M763 0H583V1147Q518 1085 412.5 1023T223 930V1104Q373 1174.5 485 1275T644 1470H763V0Z"/></g>
<g transform="translate(588.60,412.80) skewX(0.05) scale(0.99,1.04)"><text class="b" x="-6.255 2.087 6.255" y="0">4,6</text><path transform="translate(-14.597,0) scale(0.007324,-0.007043)" d="M763 0H583V1147Q518 1085 412.5 1023T223 930V1104Q373 1174.5 485 1275T644 1470H763V0Z"/></g>
<g transform="translate(648.60,412.80) skewX(0.05) scale(0.99,1.04)"><text class="b" x="-6.255 2.087 6.255" y="0">4,9</text><path transform="translate(-14.597,0) scale(0.007324,-0.007043)" d="M763 0H583V1147Q518 1085 412.5 1023T223 930V1104Q373 1174.5 485 1275T644 1470H763V0Z"/></g>
<g transform="translate(708.80,412.80) skewX(0.05) scale(0.99,1.04)"><text class="b" x="-6.255 2.087 6.255" y="0">5,3</text><path transform="translate(-14.597,0) scale(0.007324,-0.007043)" d="M763 0H583V1147Q518 1085 412.5 1023T223 930V1104Q373 1174.5 485 1275T644 1470H763V0Z"/></g>
<g transform="translate(769.30,412.80) skewX(0.05) scale(0.99,1.04)"><text class="b" x="-6.255 2.087 6.255" y="0">5,3</text><path transform="translate(-14.597,0) scale(0.007324,-0.007043)" d="M763 0H583V1147Q518 1085 412.5 1023T223 930V1104Q373 1174.5 485 1275T644 1470H763V0Z"/></g>
<text transform="translate(20.80,442.40) skewX(0.05) scale(0.995,1.02)" class="l" text-anchor="start">Heroína</text>
<g transform="translate(235.10,442.40) skewX(0.05) scale(0.99,1.04)"><text class="b" x="-6.255 2.087" y="0">4,</text><path transform="translate(-14.597,0) scale(0.007324,-0.007043)" d="M763 0H583V1147Q518 1085 412.5 1023T223 930V1104Q373 1174.5 485 1275T644 1470H763V0Z"/><path transform="translate(6.255,0) scale(0.007324,-0.007043)" d="M763 0H583V1147Q518 1085 412.5 1023T223 930V1104Q373 1174.5 485 1275T644 1470H763V0Z"/></g>
<g transform="translate(290.10,442.40) skewX(0.05) scale(0.99,1.04)"><text class="b" x="-6.255 2.087 6.255" y="0">4,0</text><path transform="translate(-14.597,0) scale(0.007324,-0.007043)" d="M763 0H583V1147Q518 1085 412.5 1023T223 930V1104Q373 1174.5 485 1275T644 1470H763V0Z"/></g>
<g transform="translate(347.60,442.40) skewX(0.05) scale(0.99,1.04)"><text class="b" x="-6.255 2.087 6.255" y="0">2,0</text><path transform="translate(-14.597,0) scale(0.007324,-0.007043)" d="M763 0H583V1147Q518 1085 412.5 1023T223 930V1104Q373 1174.5 485 1275T644 1470H763V0Z"/></g>
<g transform="translate(407.60,442.40) skewX(0.05) scale(0.99,1.04)"><text class="b" x="-6.255 2.087" y="0">4,</text><path transform="translate(-14.597,0) scale(0.007324,-0.007043)" d="M763 0H583V1147Q518 1085 412.5 1023T223 930V1104Q373 1174.5 485 1275T644 1470H763V0Z"/><path transform="translate(6.255,0) scale(0.007324,-0.007043)" d="M763 0H583V1147Q518 1085 412.5 1023T223 930V1104Q373 1174.5 485 1275T644 1470H763V0Z"/></g>
<g transform="translate(467.60,442.40) skewX(0.05) scale(0.99,1.04)"><text class="b" x="-6.255 2.087" y="0">4,</text><path transform="translate(-14.597,0) scale(0.007324,-0.007043)" d="M763 0H583V1147Q518 1085 412.5 1023T223 930V1104Q373 1174.5 485 1275T644 1470H763V0Z"/><path transform="translate(6.255,0) scale(0.007324,-0.007043)" d="M763 0H583V1147Q518 1085 412.5 1023T223 930V1104Q373 1174.5 485 1275T644 1470H763V0Z"/></g>
<g transform="translate(528.60,442.40) skewX(0.05) scale(0.99,1.04)"><text class="b" x="-6.255 2.087 6.255" y="0">3,7</text><path transform="translate(-14.597,0) scale(0.007324,-0.007043)" d="M763 0H583V1147Q518 1085 412.5 1023T223 930V1104Q373 1174.5 485 1275T644 1470H763V0Z"/></g>
<g transform="translate(588.60,442.40) skewX(0.05) scale(0.99,1.04)"><text class="b" x="-6.255 2.087 6.255" y="0">3,7</text><path transform="translate(-14.597,0) scale(0.007324,-0.007043)" d="M763 0H583V1147Q518 1085 412.5 1023T223 930V1104Q373 1174.5 485 1275T644 1470H763V0Z"/></g>
<g transform="translate(648.60,442.40) skewX(0.05) scale(0.99,1.04)"><text class="b" x="-6.255 2.087 6.255" y="0">4,7</text><path transform="translate(-14.597,0) scale(0.007324,-0.007043)" d="M763 0H583V1147Q518 1085 412.5 1023T223 930V1104Q373 1174.5 485 1275T644 1470H763V0Z"/></g>
<g transform="translate(708.80,442.40) skewX(0.05) scale(0.99,1.04)"><text class="b" x="-6.255 2.087 6.255" y="0">4,5</text><path transform="translate(-14.597,0) scale(0.007324,-0.007043)" d="M763 0H583V1147Q518 1085 412.5 1023T223 930V1104Q373 1174.5 485 1275T644 1470H763V0Z"/></g>
<g transform="translate(769.30,442.40) skewX(0.05) scale(0.99,1.04)"><text class="b" x="-6.255 2.087" y="0">4,</text><path transform="translate(-14.597,0) scale(0.007324,-0.007043)" d="M763 0H583V1147Q518 1085 412.5 1023T223 930V1104Q373 1174.5 485 1275T644 1470H763V0Z"/><path transform="translate(6.255,0) scale(0.007324,-0.007043)" d="M763 0H583V1147Q518 1085 412.5 1023T223 930V1104Q373 1174.5 485 1275T644 1470H763V0Z"/></g>
</svg>
</body></html>
